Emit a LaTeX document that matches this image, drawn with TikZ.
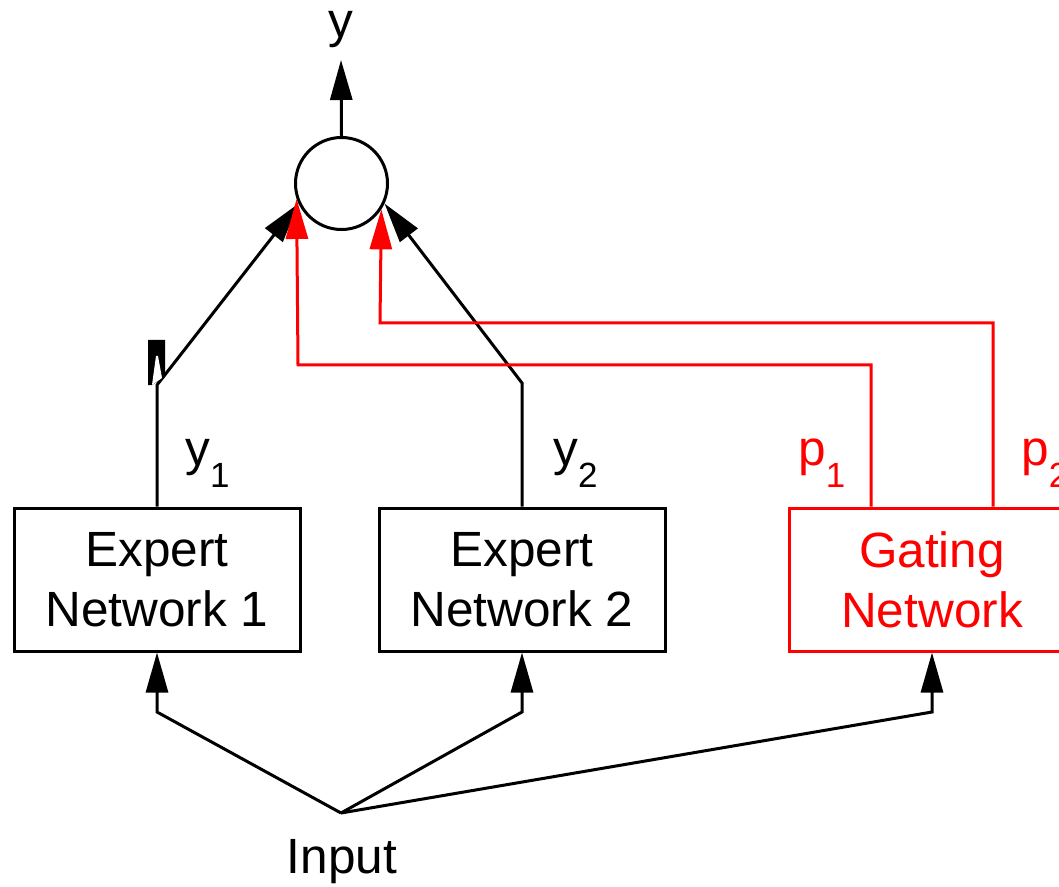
\documentclass[tikz,border=0pt]{standalone}
\usepackage{fontspec}
\setmainfont{Liberation Sans}
\usetikzlibrary{arrows.meta}
\tikzset{
  x=0.5pt, y=-0.5pt,
  ln/.style={line width=1.5pt, line join=miter},
  arr/.style={ln, -{Triangle[length=20pt,width=11pt]}},
  netbox/.style={draw, ln, minimum width=143pt, minimum height=71.5pt, inner sep=0pt, align=center,
    font=\fontsize{24.75}{30}\selectfont},
  lbl/.style={font=\fontsize{24.75}{30}\selectfont, inner sep=0pt},
}
\newcommand{\subone}[1]{\raisebox{-11pt}{\fontsize{17.5}{18}\selectfont #1}}
\begin{document}
\begin{tikzpicture}
\clip (0,0) rectangle (1059,887);
\fill[white] (0,0) rectangle (1059,887);

% nodes
\node[draw, ln, circle, minimum size=46pt, inner sep=0pt] (sum) at (341.5,183.5) {};
\node[netbox] (e1) at (157,579.5) {Expert\\Network 1};
\node[netbox] (e2) at (522,579.5) {Expert\\Network 2};
\node[netbox, draw=red, text=red] (g) at (932,579.5) {Gating\\Network};

\node[lbl, anchor=base] (ylab) at (341,38) {y};
\node[lbl, anchor=base west] (y1lab) at (185,465) {y\subone{1}};
\node[lbl, anchor=base west] (y2lab) at (553,465) {y\subone{2}};
\node[lbl, anchor=base west, text=red] (p1lab) at (798,465) {p\subone{1}};
\node[lbl, anchor=base west, text=red] (p2lab) at (1021,465) {p\subone{2}};
\node[lbl, anchor=base] (inlab) at (342,873) {Input};

\coordinate (in) at (341,813);
\coordinate (top) at (341,60);
\coordinate (k1) at (157,385);
\coordinate (k2) at (522,383);
\coordinate (p1c) at (871,365);
\coordinate (p2c) at (993,323);

% output
\draw[arr] (sum.north) -- (top);

% expert outputs
\draw[arr] (e1.north) -- (k1) -- (sum.205);
\draw[arr] (e2.north) -- (k2) -- (sum.-25);

% gating outputs
\draw[arr, red] (g.north -| p1c) -- (p1c) -- (298,365) -- (sum.199);
\draw[arr, red] (g.north -| p2c) -- (p2c) -- (380,323) -- (sum.-33);

% inputs
\draw[arr] (in) -- (157,712) -- (e1.south);
\draw[arr] (in) -- (522,712) -- (e2.south);
\draw[arr] (in) -- (932,712) -- (g.south -| 932,0);

% stray mark
\fill[black] (148,340) -- (165,340) -- (165,375) -- (160,380) -- (152,385) -- (148,385) -- cycle;
\fill[white] (152,385) -- (156,356) -- (158,356) -- (162,378) -- cycle;
\end{tikzpicture}
\end{document}
